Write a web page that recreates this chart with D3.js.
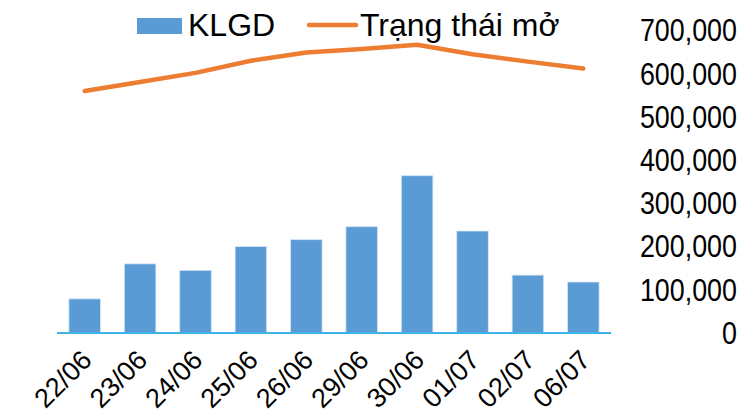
<!DOCTYPE html>
<html>
<head>
<meta charset="utf-8">
<script src="https://cdn.jsdelivr.net/npm/d3@7"></script>
<style>
  body { margin: 0; background: #fff; }
  svg { display: block; }
  text { font-family: "Liberation Sans", Arial, sans-serif; fill: #000; }
</style>
</head>
<body>
<svg id="chart"></svg>
<script>
  // chart size
  const width = 743;
  const height = 417;

  // data
  const dates = ["22/06", "23/06", "24/06", "25/06", "26/06", "29/06", "30/06", "01/07", "02/07", "06/07"];
  const klgd = [79000, 160000, 145000, 200000, 216000, 246000, 364000, 236000, 134000, 118000];
  const trangThaiMo = [560000, 581000, 602000, 630000, 649000, 657000, 667000, 645000, 628000, 612000];
  const yTicks = [0, 100000, 200000, 300000, 400000, 500000, 600000, 700000];

  const svg = d3.select("#chart")
      .attr("width", width)
      .attr("height", height);

  const x = d3.scaleBand()
      .domain(dates)
      .range([57, 611])
      .paddingInner(0.43)
      .paddingOuter(0.215);

  const y = d3.scaleLinear()
      .domain([0, 700000])
      .range([333, 30.5]);

  // bars
  svg.append("g")
    .selectAll("rect")
    .data(klgd)
    .enter().append("rect")
      .attr("x", (d, i) => x(dates[i]))
      .attr("y", d => y(d))
      .attr("width", x.bandwidth())
      .attr("height", d => y(0) - y(d))
      .attr("fill", "#5b9bd5")
      .attr("stroke", "#d6e6f5")
      .attr("stroke-width", 0.8);

  // category axis line
  svg.append("line")
      .attr("x1", 57).attr("x2", 611)
      .attr("y1", y(0)).attr("y2", y(0))
      .attr("stroke", "#3fb3e6")
      .attr("stroke-width", 2);

  // line series
  const line = d3.line()
      .x((d, i) => x(dates[i]) + x.bandwidth() / 2)
      .y(d => y(d));

  svg.append("path")
      .datum(trangThaiMo)
      .attr("d", line)
      .attr("fill", "none")
      .attr("stroke", "#ed7d31")
      .attr("stroke-width", 4.5)
      .attr("stroke-linecap", "round")
      .attr("stroke-linejoin", "round");

  // value axis on the right, no line; glyphs a bit taller like the original
  const gy = svg.append("g");
  gy.selectAll("text")
    .data(yTicks)
    .enter().append("text")
      .attr("transform", d => `translate(737,${y(d)}) scale(0.96,1.1)`)
      .attr("text-anchor", "end")
      .attr("dy", "0.35em")
      .style("font-size", "28px")
      .text(d3.format(","));

  // rotated date labels
  svg.append("g")
    .selectAll("text")
    .data(dates)
    .enter().append("text")
      .attr("transform", d => `translate(${x(d) + x.bandwidth() / 2 + 2},355) rotate(-45)`)
      .attr("text-anchor", "end")
      .attr("dy", "0.35em")
      .style("font-size", "27px")
      .text(d => d);

  // legend
  const legend = svg.append("g");
  legend.append("rect")
      .attr("x", 137).attr("y", 18)
      .attr("width", 45).attr("height", 16)
      .attr("fill", "#5b9bd5");
  legend.append("text")
      .attr("x", 188).attr("y", 36)
      .style("font-size", "32px")
      .text("KLGD");
  legend.append("line")
      .attr("x1", 309).attr("x2", 356)
      .attr("y1", 25).attr("y2", 25)
      .attr("stroke", "#ed7d31")
      .attr("stroke-width", 4.5)
      .attr("stroke-linecap", "round");
  legend.append("text")
      .attr("x", 360).attr("y", 36)
      .style("font-size", "32px")
      .text("Trạng thái mở");
</script>
</body>
</html>
